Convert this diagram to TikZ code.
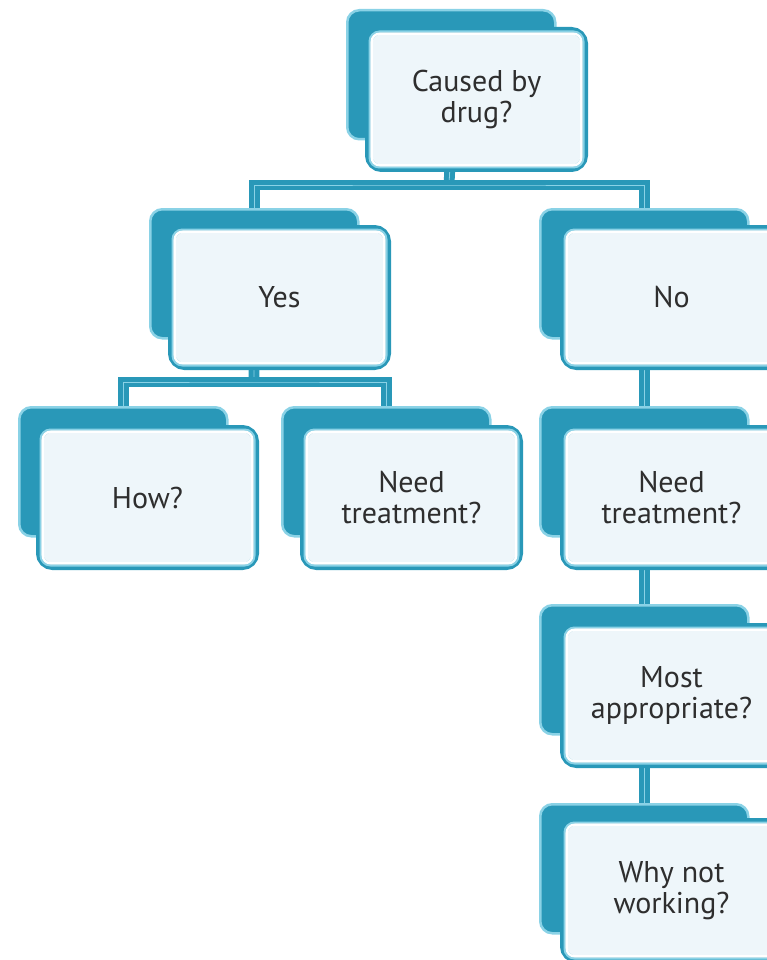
\documentclass[tikz,border=0pt]{standalone}
\usepackage{fontspec}
\setmainfont{PT Sans}
\definecolor{tealA}{HTML}{2998B8}
\definecolor{liteA}{HTML}{8AD2E6}
\definecolor{fillA}{HTML}{EEF6FA}
\definecolor{txtA}{HTML}{2E2E2E}
\pgfdeclarelayer{bg}
\pgfsetlayers{bg,main}
\tikzset{
  backbox/.style={draw=liteA, line width=2.5pt, fill=tealA, rounded corners=12pt,
    minimum width=208pt, minimum height=129pt, inner sep=0pt, anchor=north west},
  frontbox/.style={draw=tealA, line width=7pt, fill=fillA, rounded corners=13pt,
    minimum width=216pt, minimum height=138pt, inner sep=0pt, anchor=north west,
    align=center, text=txtA, font=\fontsize{30}{31}\selectfont},
  ringA/.style={draw=liteA, line width=2pt, rounded corners=10pt},
  ringB/.style={draw=white, line width=2.5pt, rounded corners=8pt},
  conn/.style={draw=tealA, line width=5pt, double=liteA, double distance=0.8pt},
}
\newcommand\mkunit[6]{%
  \node[backbox] (#1b) at (#2,#3) {};
  \node[frontbox] (#1) at (#4,#5) {#6};
  \draw[ringA] ([xshift=4.5pt,yshift=-4.5pt]#1.north west) rectangle ([xshift=-4.5pt,yshift=4.5pt]#1.south east);
  \draw[ringB] ([xshift=6.7pt,yshift=-6.7pt]#1.north west) rectangle ([xshift=-6.7pt,yshift=6.7pt]#1.south east);
}
\begin{document}
\begin{tikzpicture}[x=1pt,y=-1pt]
\useasboundingbox (0,0) rectangle (767,960);
\clip (0,0) rectangle (767,960);
\mkunit{r}{346}{9}{365}{27}{Caused by\\drug?}
\mkunit{y}{149}{208}{168}{225}{Yes}
\mkunit{n}{539}{208}{560}{225}{No}
\mkunit{h}{18}{406}{36}{425}{How?}
\mkunit{lt}{281}{406}{300}{425}{Need\\treatment?}
\mkunit{rt}{539}{406}{560}{425}{Need\\treatment?}
\mkunit{m}{539}{604}{560}{623}{Most\\appropriate?}
\mkunit{w}{539}{803}{560}{818}{Why not\\working?}
\coordinate (rbar) at (449,185);
\coordinate (ybar) at (254,382);
\begin{pgfonlayer}{bg}
  \draw[conn] (rb.south) -- (rbar);
  \draw[conn] (yb.north) |- (rbar) -| (nb.north);
  \draw[conn] (yb.south) -- (ybar);
  \draw[conn] (hb.north) |- (ybar) -| (ltb.north);
  \draw[conn] (nb.south) -- (rtb.north);
  \draw[conn] (rtb.south) -- (mb.north);
  \draw[conn] (mb.south) -- (wb.north);
\end{pgfonlayer}
\end{tikzpicture}
\end{document}
